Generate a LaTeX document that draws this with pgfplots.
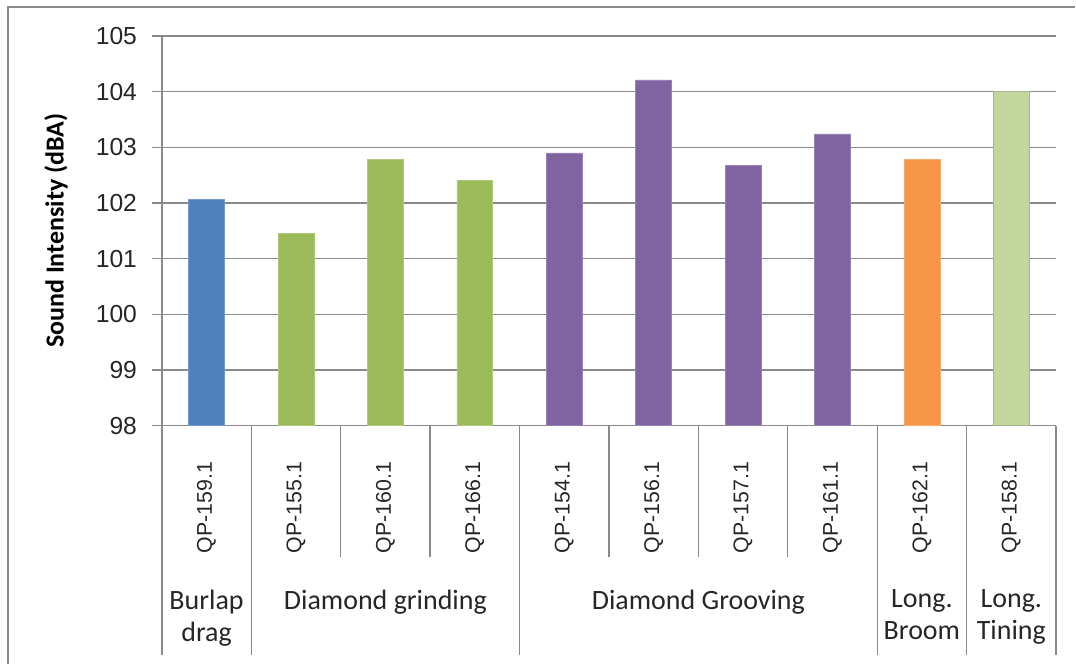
\documentclass[border=0pt]{standalone}
\usepackage{pgfplots}
\pgfplotsset{compat=1.18}
\usepackage{fontspec}
\setmainfont{Carlito}
\newfontfamily\arialf{Liberation Sans}
\definecolor{cblue}{HTML}{4F81BD}
\definecolor{cgreen}{HTML}{9BBB59}
\definecolor{cpurple}{HTML}{8064A2}
\definecolor{corange}{HTML}{F79646}
\definecolor{clgreen}{HTML}{C3D69B}
\definecolor{gridc}{HTML}{8A8A8A}
\begin{document}
\begin{tikzpicture}
\begin{axis}[
  scale only axis,
  width=671.25pt, height=292.5pt,
  xmin=-0.5, xmax=9.5, ymin=98, ymax=105,
  ybar, bar width=0.4, bar shift=0pt,
  ytick={98,99,...,105},
  xtick={0,...,9},
  xticklabels={QP-159.1,QP-155.1,QP-160.1,QP-166.1,QP-154.1,QP-156.1,QP-157.1,QP-161.1,QP-162.1,QP-158.1},
  xtick style={draw=none},
  xticklabel shift=19.5pt,
  xticklabel style={rotate=90, anchor=east, inner sep=0pt, font=\arialf\fontsize{16}{16}\selectfont, color=black!85},
  yticklabel style={font=\arialf\fontsize{18.5}{18.5}\selectfont, inner sep=0pt, color=black!85},
  yticklabel shift=11pt,
  /pgf/number format/assume math mode=true,
  ymajorgrids,
  grid style={color=gridc, line width=1pt},
  axis lines*=left,
  axis line style={-, color=gridc, line width=1pt},
  tick align=outside,
  ytick style={color=gridc, line width=1pt},
  major tick length=7.5pt,
  ylabel={\bfseries Sound Intensity (dBA)},
  ylabel style={at={([xshift=-79.5pt]axis description cs:0,0.5)}, anchor=center, font=\fontsize{19.5}{19.5}\selectfont},
  clip=false,
]
\addplot[fill=cblue, draw=cblue!80!white] coordinates {(0,102.07)};
\addplot[fill=cgreen, draw=cgreen!80!white] coordinates {(1,101.45) (2,102.78) (3,102.40)};
\addplot[fill=cpurple, draw=cpurple!80!white] coordinates {(4,102.90) (5,104.21) (6,102.67) (7,103.24)};
\addplot[fill=corange, draw=corange!80!white] coordinates {(8,102.79)};
\addplot[fill=clgreen, draw=clgreen!60!gray] coordinates {(9,104.01)};
% category separators
\pgfplotsinvokeforeach{-0.5,0.5,3.5,7.5,8.5,9.5}{
  \draw[gridc, line width=1pt] (axis cs:#1,98) -- ([yshift=-172.5pt]axis cs:#1,98);
}
\pgfplotsinvokeforeach{1.5,2.5,4.5,5.5,6.5}{
  \draw[gridc, line width=1pt] (axis cs:#1,98) -- ([yshift=-99pt]axis cs:#1,98);
}
% group labels
\begin{scope}[every node/.style={anchor=north, inner sep=0pt, align=center, font=\fontsize{21}{24}\selectfont, text=black!85}]
\node at ([yshift=-123pt]axis cs:0,98) {Burlap\\drag};
\node at ([yshift=-123pt]axis cs:2,98) {Diamond grinding};
\node at ([yshift=-123pt]axis cs:5.5,98) {Diamond Grooving};
\node at ([yshift=-123pt]axis cs:8,98) {Long.\\Broom};
\node at ([yshift=-123pt]axis cs:9,98) {Long.\\Tining};
\end{scope}
\end{axis}
% outer frame (top and left edges)
\draw[gridc, line width=1.5pt] (-115.5pt,-179.25pt) -- (-115.5pt,314.25pt) -- (685.5pt,314.25pt);
\path (-121.5pt,-179.25pt) rectangle (685.5pt,319.5pt);
\end{tikzpicture}
\end{document}
